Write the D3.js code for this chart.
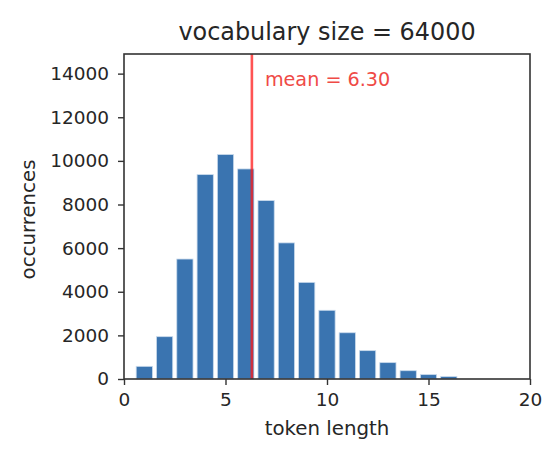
<!DOCTYPE html>
<html><head><meta charset="utf-8">
<script src="https://cdn.jsdelivr.net/npm/d3@7"></script>
<style>body{margin:0;background:#fff}svg{display:block}text{font-family:"DejaVu Sans",sans-serif}</style>
</head><body><svg id="c" width="554" height="454"></svg>
<script>
const tokenLengths = [1,2,3,4,5,6,7,8,9,10,11,12,13,14,15,16];
const occurrences = [580,1940,5500,9370,10290,9630,8180,6240,4430,3150,2120,1300,750,380,200,110];
const xTicks = [0,5,10,15,20];
const yTicks = [0,2000,4000,6000,8000,10000,12000,14000];
const meanValue = 6.30;
const titleText = "vocabulary size = 64000";

const svg = d3.select("#c");
const m = {l:124, r:530, t:54, b:379};
const x = d3.scaleLinear().domain([0,20]).range([m.l,m.r]);
const y = d3.scaleLinear().domain([0,14900]).range([m.b,m.t]);
const bw = x(0.8)-x(0);

svg.append("g").selectAll("rect").data(tokenLengths).join("rect")
  .attr("x", d=>x(d-0.4)).attr("width", bw)
  .attr("y", (d,i)=>y(occurrences[i])).attr("height",(d,i)=>y(0)-y(occurrences[i]))
  .attr("fill","#3a74b0").attr("stroke","#c9daec").attr("stroke-width",0.8);

svg.append("line").attr("x1",x(meanValue)).attr("x2",x(meanValue)).attr("y1",m.t).attr("y2",m.b)
  .attr("stroke","#ff1a1a").attr("stroke-opacity",0.75).attr("stroke-width",2.6);
svg.append("text").attr("x",x(meanValue)+13).attr("y",86).attr("fill","#ef4a46")
  .attr("font-size",19.2).text("mean = " + meanValue.toFixed(2));

const fmt = d3.format("d");
const xa = svg.append("g").attr("transform",`translate(0,${m.b})`)
  .call(d3.axisBottom(x).tickValues(xTicks).tickFormat(fmt).tickSize(6).tickPadding(5));
const ya = svg.append("g").attr("transform",`translate(${m.l},0)`)
  .call(d3.axisLeft(y).tickValues(yTicks).tickFormat(fmt).tickSize(6).tickPadding(9));
[xa,ya].forEach(a=>{a.select(".domain").remove();
  a.selectAll("line").attr("stroke","#333").attr("stroke-width",1.4);
  a.selectAll("text").attr("font-size",18.5).attr("fill","#262626").attr("font-family","DejaVu Sans");});
xa.selectAll("text").attr("dy","0.85em");

svg.append("rect").attr("x",m.l).attr("y",m.t).attr("width",m.r-m.l).attr("height",m.b-m.t)
  .attr("fill","none").attr("stroke","#333").attr("stroke-width",1.6);

svg.append("text").attr("x",(m.l+m.r)/2).attr("y",40).attr("text-anchor","middle")
  .attr("font-size",23.9).attr("fill","#262626").text(titleText);
svg.append("text").attr("x",(m.l+m.r)/2).attr("y",435).attr("text-anchor","middle")
  .attr("font-size",19.8).attr("fill","#262626").text("token length");
svg.append("text").attr("transform",`translate(35,${(m.t+m.b)/2+3}) rotate(-90)`).attr("text-anchor","middle")
  .attr("font-size",19.8).attr("fill","#262626").text("occurrences");
</script></body></html>
